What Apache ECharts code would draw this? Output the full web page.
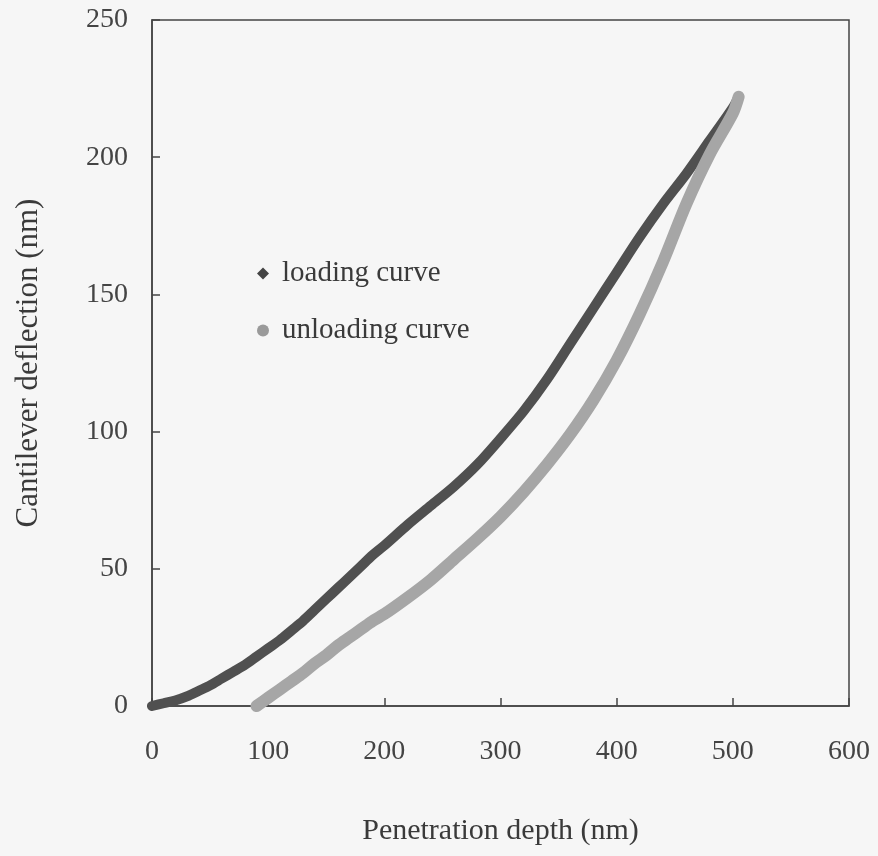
<!DOCTYPE html>
<html><head><meta charset="utf-8">
<script src="https://cdn.jsdelivr.net/npm/echarts@6/dist/echarts.min.js"></script>
<style>html,body{margin:0;padding:0;background:#f6f6f6}#c{width:878px;height:856px}</style>
</head><body><div id="c"></div>
<script>
// Loading curve: [penetration depth (nm), cantilever deflection (nm)]
var loadingX = [0,10,20,30,40,50,60,70,80,90,100,110,120,130,140,150,160,170,180,190,200,220,240,260,280,300,320,340,360,380,400,420,440,460,480,500,505];
var loadingY = [0,1,2,3.5,5.5,7.5,10,12.5,15,18,21,24,27.5,31,35,39,43,47,51,55,58.5,66,73,80,88,97.5,107.5,119,132,145,158,171,183,194,206,218,222];
// Unloading curve
var unloadX = [90,100,110,120,130,140,150,160,170,180,190,200,220,240,260,280,300,320,340,360,380,400,420,440,460,480,500,505];
var unloadY = [0,3,6,9,12,15.5,18.5,22,25,28,31,33.5,39.5,46,53.5,61,69,78,88,99,111.5,126,143,162,183,201,216,222];
var xTicks = [0,100,200,300,400,500,600];
var yTicks = [0,50,100,150,200,250];
var seriesNames = ['loading curve','unloading curve'];

function zip(a,b){return a.map(function(v,i){return [v,b[i]];});}
var font = 'Liberation Serif, Times New Roman, serif';
var chart = echarts.init(document.getElementById('c'));
chart.setOption({
  backgroundColor:'#f6f6f6',
  animation:false,
  grid:{left:152,right:29,top:20,bottom:150,show:true,borderColor:'#444',borderWidth:1.5,backgroundColor:'transparent'},
  legend:{
    left:252, top:254, orient:'vertical', itemGap:28, itemWidth:12, itemHeight:12,
    textStyle:{fontFamily:font,fontSize:29,color:'#3a3a3a',padding:[0,0,0,8]},
    data:[{name:seriesNames[0],icon:'diamond',itemStyle:{color:'#444'}},
          {name:seriesNames[1],icon:'circle',itemStyle:{color:'#9a9a9a'}}]
  },
  xAxis:{type:'value',min:xTicks[0],max:xTicks[xTicks.length-1],interval:100,
    name:'Penetration depth (nm)',nameLocation:'middle',nameGap:110,
    nameTextStyle:{fontFamily:font,fontSize:30,color:'#3a3a3a'},
    axisLine:{show:true,lineStyle:{color:'#444',width:1.5}},
    axisTick:{inside:true,length:8,lineStyle:{color:'#444',width:1.5}},
    axisLabel:{margin:32,fontFamily:font,fontSize:28,color:'#444'},
    splitLine:{show:false}},
  yAxis:{type:'value',min:yTicks[0],max:yTicks[yTicks.length-1],interval:50,
    name:'Cantilever deflection (nm)',nameLocation:'middle',nameGap:108,
    nameTextStyle:{fontFamily:font,fontSize:31,color:'#3a3a3a'},
    axisLine:{show:true,lineStyle:{color:'#444',width:1.5}},
    axisTick:{inside:true,length:8,lineStyle:{color:'#444',width:1.5}},
    axisLabel:{margin:24,fontFamily:font,fontSize:28,color:'#444'},
    splitLine:{show:false}},
  series:[
    {name:seriesNames[0],type:'line',data:zip(loadingX,loadingY),symbol:'none',smooth:0.3,
      lineStyle:{color:'#505050',width:10,cap:'round',join:'round'},itemStyle:{color:'#444'},z:2},
    {name:seriesNames[1],type:'line',data:zip(unloadX,unloadY),symbol:'none',smooth:0.3,
      lineStyle:{color:'#a6a6a6',width:12,cap:'round',join:'round'},itemStyle:{color:'#9a9a9a'},z:3}
  ]
});
</script></body></html>
